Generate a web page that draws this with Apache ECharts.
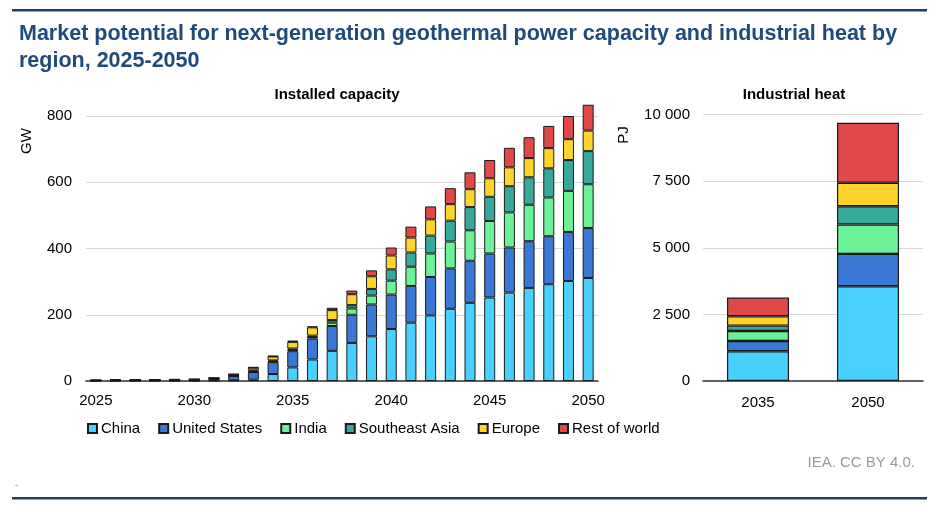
<!DOCTYPE html>
<html>
<head>
<meta charset="utf-8">
<script src="https://cdn.jsdelivr.net/npm/echarts@6/dist/echarts.min.js"></script>
<style>
html,body{margin:0;padding:0;background:#fff;}
#chart{width:938px;height:518px;}
</style>
</head>
<body>
<div id="chart"></div>
<script>
// ---- data ----
const years = ['2025','2026','2027','2028','2029','2030','2031','2032','2033','2034','2035','2036','2037','2038','2039','2040','2041','2042','2043','2044','2045','2046','2047','2048','2049','2050'];
const regions = ['China','United States','India','Southeast Asia','Europe','Rest of world'];
// Installed capacity (GW)
const capChina   = [0.3,0.4,0.4,0.5,0.5,0.6,1,2,4,21,41,65,91,115,135,157,176,198,218,236,252,267,281,292,302,311];
const capUS      = [1.2,1.8,2,2.3,2.5,2.8,5,13,23,36,49,63,75,85,96,104,111,116,122,127,133,136,141,145,148,151];
const capIndia   = [0.1,0.2,0.2,0.2,0.3,0.3,0.5,1,2,2,4,5,10,19,27,42,58,71,81,92,98,106,110,117,124,132];
const capSEA     = [0.3,0.3,0.4,0.4,0.4,0.5,0.8,1,3,3,4,4,8,10,20,34,43,54,63,70,73,79,83,88,93,100];
const capEurope  = [0.5,0.6,0.7,0.8,0.9,1,1.5,3,8,12,20,25,30,33,38,42,45,49,50,54,56,57,58,61,63,62];
const capRoW     = [0.3,0.4,0.4,0.5,0.5,0.6,1,1,2,2,4,3,7,11,18,24,33,39,48,51,55,59,63,67,70,78];
// Industrial heat (PJ)
const heatYears  = ['2035','2050'];
const heatChina  = [1114,3556];
const heatUS     = [388,1214];
const heatIndia  = [376,1102];
const heatSEA    = [200,688];
const heatEurope = [351,877];
const heatRoW    = [701,2253];
const capTicks   = [0,200,400,600,800];
const heatTicks  = [0,2500,5000,7500,10000];

const colors = ['#48D1FF','#3B78D6','#6BF296','#36A99C','#FFD42A','#E2484A'];
const capSeries = [capChina,capUS,capIndia,capSEA,capEurope,capRoW];
const heatSeries = [heatChina,heatUS,heatIndia,heatSEA,heatEurope,heatRoW];
const FONT = 'Arial, "Liberation Sans", sans-serif';

const fmt = v => String(v).replace(/\B(?=(\d{3})+(?!\d))/g,' ');

const series = [];
regions.forEach((r,i)=>{
  series.push({
    name:r, type:'bar', stack:'cap', xAxisIndex:0, yAxisIndex:0,
    data:capSeries[i], barWidth:11, clip:false,
    itemStyle:{color:colors[i], borderColor:'#1a1a1a', borderWidth:1},
    emphasis:{disabled:true}
  });
});
regions.forEach((r,i)=>{
  series.push({
    name:r, type:'bar', stack:'heat', xAxisIndex:1, yAxisIndex:1,
    data:heatSeries[i], barWidth:62, clip:false,
    itemStyle:{color:colors[i], borderColor:'#1a1a1a', borderWidth:1.2},
    emphasis:{disabled:true}
  });
});

const chart = echarts.init(document.getElementById('chart'), null, {renderer:'canvas'});
chart.setOption({
  animation:false,
  backgroundColor:'#fff',
  textStyle:{fontFamily:FONT},
  title:{
    text:'Market potential for next-generation geothermal power capacity and industrial heat by\nregion, 2025-2050',
    left:14, top:16,
    textStyle:{fontFamily:FONT, fontSize:21.5, fontWeight:'bold', color:'#1F4A7C', lineHeight:27}
  },
  graphic:[
    {type:'rect', shape:{x:12,y:9,width:915,height:2.5}, style:{fill:'#1F3F66'}},
    {type:'rect', shape:{x:12,y:497,width:915,height:2.5}, style:{fill:'#1F3F66'}},
    {type:'text', x:337, y:95, style:{text:'Installed capacity', font:'bold 15px '+FONT, fill:'#000', textAlign:'center', textVerticalAlign:'middle'}},
    {type:'text', x:794, y:95, style:{text:'Industrial heat', font:'bold 15px '+FONT, fill:'#000', textAlign:'center', textVerticalAlign:'middle'}},
    {type:'text', x:27, y:141, rotation:Math.PI/2, style:{text:'GW', font:'15px '+FONT, fill:'#000', textAlign:'center', textVerticalAlign:'middle'}},
    {type:'text', x:624, y:135, rotation:Math.PI/2, style:{text:'PJ', font:'15px '+FONT, fill:'#000', textAlign:'center', textVerticalAlign:'middle'}},
    {type:'text', x:915, y:463, style:{text:'IEA. CC BY 4.0.', font:'15px '+FONT, fill:'#9a9a9a', textAlign:'right', textVerticalAlign:'middle'}},
    {type:'text', x:15, y:486, style:{text:'-', font:'9px '+FONT, fill:'#888', textAlign:'left', textVerticalAlign:'middle'}}
  ],
  legend:{
    data:regions, left:82, top:416, itemWidth:9, itemHeight:9, itemGap:18, icon:'rect',
    textStyle:{fontFamily:FONT, fontSize:15, color:'#000', padding:[0,0,0,-1]},
    selectedMode:false
  },
  grid:[
    {left:86, right:340, top:116, bottom:137, containLabel:false},
    {left:703, right:15, top:114.5, bottom:137, containLabel:false}
  ],
  xAxis:[
    {type:'category', gridIndex:0, data:years, boundaryGap:true,
     axisLine:{lineStyle:{color:'#333', width:1.5}}, axisTick:{show:false},
     axisLabel:{interval:4, fontSize:15, color:'#000', margin:12, fontFamily:FONT}},
    {type:'category', gridIndex:1, data:heatYears, boundaryGap:true,
     axisLine:{lineStyle:{color:'#333', width:1.5}}, axisTick:{show:false},
     axisLabel:{fontSize:15, color:'#000', margin:14, fontFamily:FONT}}
  ],
  yAxis:[
    {type:'value', gridIndex:0, min:capTicks[0], max:capTicks[capTicks.length-1], interval:capTicks[1]-capTicks[0],
     axisLine:{show:false}, axisTick:{show:false},
     splitLine:{lineStyle:{color:'#d9d9d9', width:1}},
     axisLabel:{fontSize:15, color:'#000', margin:14, fontFamily:FONT}},
    {type:'value', gridIndex:1, min:heatTicks[0], max:heatTicks[heatTicks.length-1], interval:heatTicks[1]-heatTicks[0],
     axisLine:{show:false}, axisTick:{show:false},
     splitLine:{lineStyle:{color:'#d9d9d9', width:1}},
     axisLabel:{fontSize:15, color:'#000', margin:13, fontFamily:FONT, formatter:fmt}}
  ],
  series:series
});
</script>
</body>
</html>
